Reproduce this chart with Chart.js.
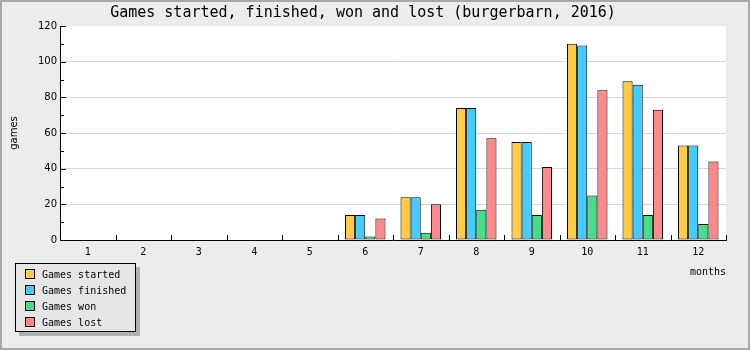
<!DOCTYPE html>
<html>
<head>
<meta charset="utf-8">
<script src="https://cdn.jsdelivr.net/npm/chart.js@4/dist/chart.umd.min.js"></script>
<style>
  body { margin: 0; background: #ececec; }
  #wrap { position: relative; width: 750px; height: 350px; background: #ececec; }
  #frame { position: absolute; left: 0; top: 0; width: 750px; height: 350px; box-sizing: border-box;
           border: 2px solid #a8a8a8; pointer-events: none; }
  #legend { position: absolute; left: 15px; top: 263px; width: 121px; height: 69px; box-sizing: border-box;
            background: #e6e6e6; border: 1px solid #000; box-shadow: 4px 4px 0 #b0b0b0;
            font: 10px "DejaVu Sans Mono", monospace; color: #000; padding-top: 3px; }
  #legend div { height: 16px; line-height: 16px; white-space: nowrap; }
  #legend span { display: inline-block; width: 10px; height: 10px; box-sizing: border-box; border: 1px solid #000;
                 vertical-align: -1px; margin-left: 9px; margin-right: 7px; }
</style>
</head>
<body>
<div id="wrap">
  <canvas id="gamesChart" width="750" height="350"></canvas>
  <div id="legend"></div>
  <div id="frame"></div>
</div>
<script>
// data
const months = ['1', '2', '3', '4', '5', '6', '7', '8', '9', '10', '11', '12'];
const seriesNames = ['Games started', 'Games finished', 'Games won', 'Games lost'];
const seriesColors = ['#ffcc44', '#44ccff', '#44dd88', '#ff8888'];
const gamesStarted  = [0, 0, 0, 0, 0, 14, 24, 74, 55, 110, 89, 53];
const gamesFinished = [0, 0, 0, 0, 0, 14, 24, 74, 55, 109, 87, 53];
const gamesWon      = [0, 0, 0, 0, 0, 2, 4, 17, 14, 25, 14, 9];
const gamesLost     = [0, 0, 0, 0, 0, 12, 20, 57, 41, 84, 73, 44];
const yMax = 120;
const yStep = 20;
const yMinorStep = 10;

const seriesValues = [gamesStarted, gamesFinished, gamesWon, gamesLost];

// white plot area
const plotBackground = {
    id: 'plotBackground',
    beforeDraw: function (chart) {
        const a = chart.chartArea;
        chart.ctx.save();
        chart.ctx.fillStyle = '#ffffff';
        chart.ctx.fillRect(a.left, a.top, a.right - a.left, a.bottom - a.top);
        chart.ctx.restore();
    }
};

// tick marks pointing into the plot
const innerTicks = {
    id: 'innerTicks',
    afterDraw: function (chart) {
        const ctx = chart.ctx;
        const a = chart.chartArea;
        const x = chart.scales.x;
        const y = chart.scales.y;
        ctx.save();
        ctx.strokeStyle = '#000';
        ctx.lineWidth = 1;
        ctx.beginPath();
        for (let v = 0; v <= yMax; v += yMinorStep) {
            const py = Math.round(y.getPixelForValue(v)) + 0.5;
            const len = v % yStep === 0 ? 6 : 4;
            ctx.moveTo(a.left, py);
            ctx.lineTo(a.left + len, py);
        }
        for (let i = 1; i <= months.length; i++) {
            const px = Math.round(x.getPixelForValue(i - 0.5)) + 0.5;
            ctx.moveTo(px, a.bottom);
            ctx.lineTo(px, a.bottom - 5);
        }
        ctx.stroke();
        ctx.restore();
    }
};

const datasets = seriesNames.map(function (name, i) {
    return {
        label: name,
        data: seriesValues[i],
        backgroundColor: seriesColors[i],
        borderColor: '#000',
        borderWidth: 1,
        borderSkipped: false,
        categoryPercentage: 0.73,
        barPercentage: 1.0
    };
});

new Chart(document.getElementById('gamesChart'), {
    type: 'bar',
    data: { labels: months, datasets: datasets },
    plugins: [plotBackground, innerTicks],
    options: {
        responsive: false,
        animation: false,
        layout: { padding: { left: 0, right: 24, top: 0, bottom: 0 } },
        plugins: {
            legend: { display: false },
            tooltip: { enabled: false },
            title: {
                display: true,
                text: 'Games started, finished, won and lost (burgerbarn, 2016)',
                color: '#000',
                font: { family: 'DejaVu Sans Mono', size: 15, weight: 'normal' },
                padding: { top: 4, bottom: 4 }
            }
        },
        scales: {
            x: {
                offset: true,
                grid: { color: 'transparent', drawTicks: false },
                border: { display: true, color: '#000', width: 1 },
                ticks: {
                    color: '#000',
                    padding: 6,
                    maxRotation: 0,
                    font: { family: 'DejaVu Sans Mono', size: 10 }
                },
                title: {
                    display: true,
                    text: 'months',
                    align: 'end',
                    color: '#000',
                    font: { family: 'DejaVu Sans Mono', size: 10 },
                    padding: { top: 0, bottom: 72 }
                },
                afterFit: function (scale) { scale.height = 110; }
            },
            y: {
                min: 0,
                max: yMax,
                grid: {
                    drawTicks: false,
                    color: function (c) {
                        const v = c.tick ? c.tick.value : 0;
                        return (v > 0 && v < yMax) ? '#d8d8d8' : 'transparent';
                    }
                },
                border: { display: true, color: '#000', width: 1 },
                ticks: {
                    stepSize: yStep,
                    color: '#000',
                    padding: 3,
                    font: { family: 'DejaVu Sans', size: 10 }
                },
                title: {
                    display: true,
                    text: 'games',
                    color: '#000',
                    font: { family: 'DejaVu Sans', size: 10 },
                    padding: { top: 8, bottom: 0 }
                },
                afterFit: function (scale) { scale.width = 60; }
            }
        }
    }
});

// legend built from the series arrays
const legendBox = document.getElementById('legend');
seriesNames.forEach(function (name, i) {
    const row = document.createElement('div');
    const swatch = document.createElement('span');
    swatch.style.background = seriesColors[i];
    row.appendChild(swatch);
    row.appendChild(document.createTextNode(name));
    legendBox.appendChild(row);
});
</script>
</body>
</html>
